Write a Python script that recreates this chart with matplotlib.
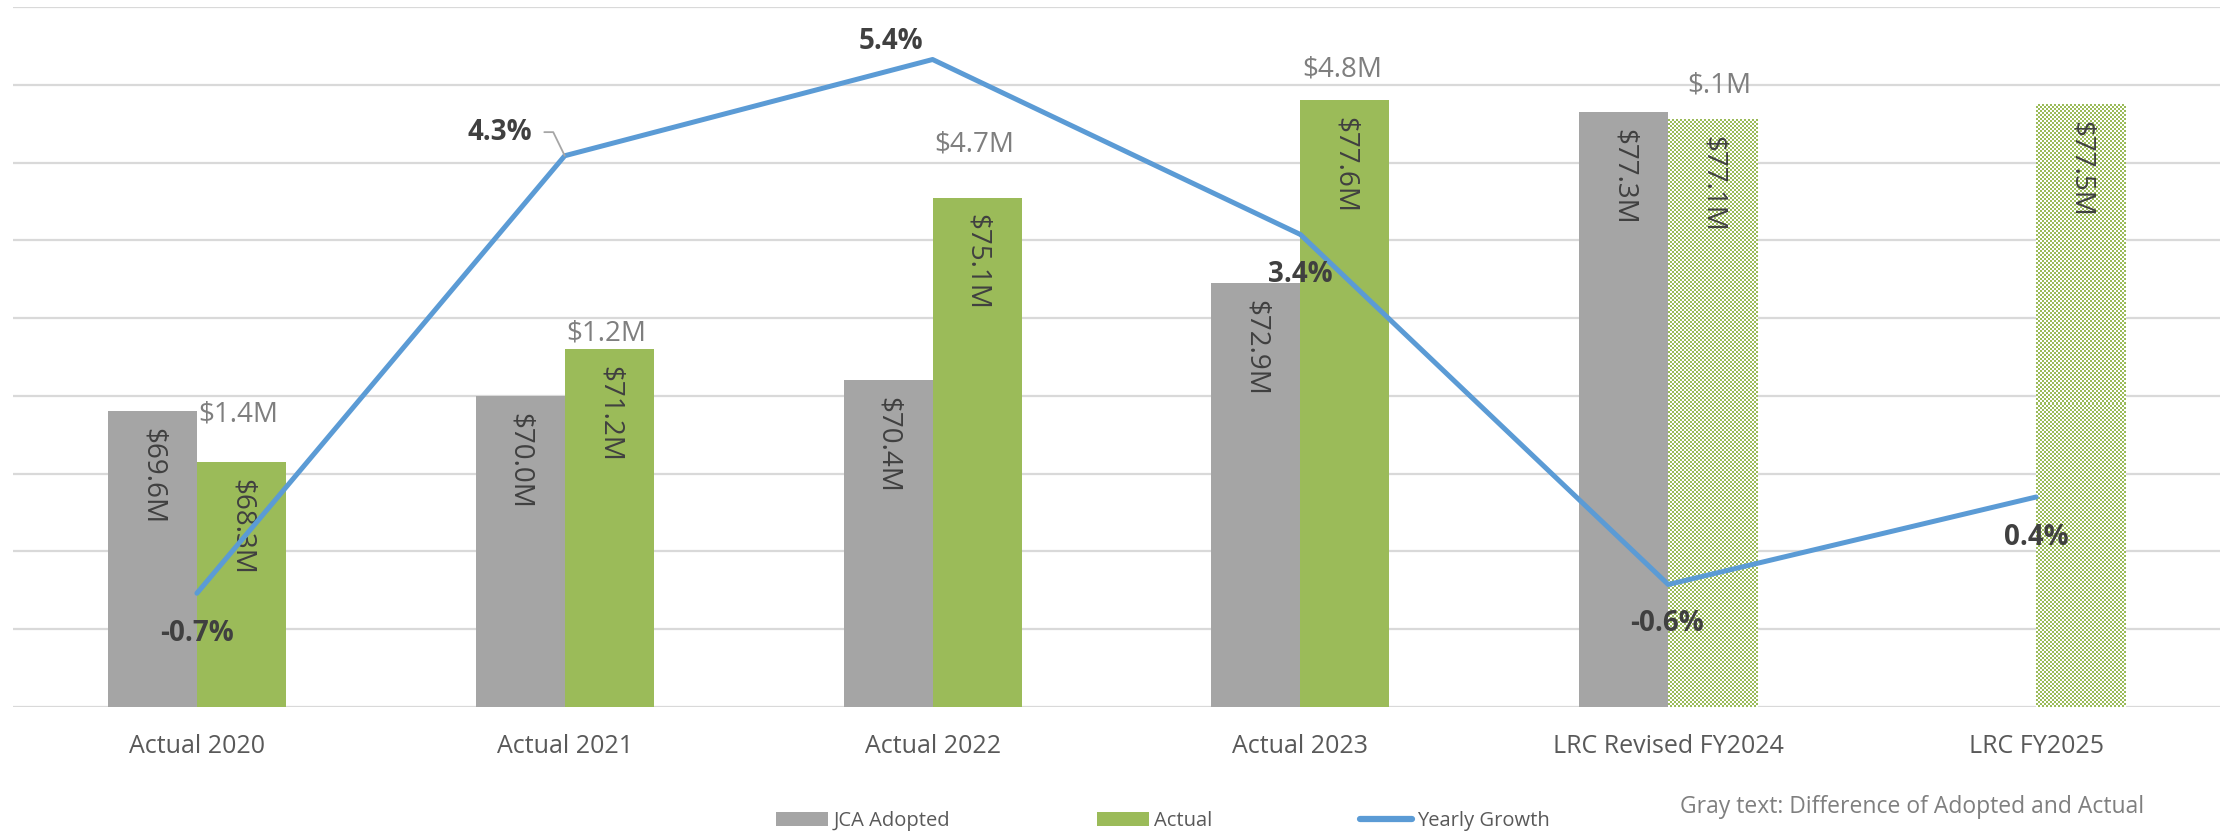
import numpy as np
import matplotlib

matplotlib.use("Agg")
import matplotlib.pyplot as plt
from matplotlib.colors import ListedColormap
from matplotlib.lines import Line2D
from matplotlib.patches import Patch

plt.rcParams["font.family"] = ["Open Sans", "DejaVu Sans"]

# === Data ===

categories = ["Actual 2020", "Actual 2021", "Actual 2022", "Actual 2023",
              "LRC Revised FY2024", "LRC FY2025"]
adopted = [69.6, 70.0, 70.4, 72.9, 77.3, np.nan]      # JCA Adopted, $M
actual = [68.3, 71.2, 75.1, 77.6, 77.1, 77.5]         # Actual / projected, $M
growth = [-0.7, 4.3, 5.4, 3.4, -0.6, 0.4]             # yearly growth, %
diff_labels = ["$1.4M", "$1.2M", "$4.7M", "$4.8M", "$.1M"]
projected = [False, False, False, False, True, True]

# === Style ===

GRAY = "#A5A5A5"
GREEN = "#9BBB59"
BLUE = "#5B9BD5"
GRID = "#D9D9D9"
DARK = "#404040"
NOTE = "#7F7F7F"
BAR_W = 0.242
CELL = 2  # checker cell size in pixels

# label offsets in points
growth_offsets = [(0, -29), (-47, 17), (-30, 13), (0, -29), (-1, -28), (0, -29)]
diff_offsets = [(-2, 34), (-2, 11), (-2, 38), (-2, 22), (5, 25)]

fig = plt.figure(figsize=(22.36, 8.33), dpi=100)
ax = fig.add_axes([13 / 2236, 126 / 833, 2207 / 2236, 700 / 833])
x = np.arange(len(categories))

ax.set_xlim(-0.5, len(categories) - 0.5)
ax.set_ylim(62, 80)
ax.set_yticks(np.arange(62, 81, 2))
ax.yaxis.grid(True, color=GRID, linewidth=1.6, zorder=0)
ax.set_axisbelow(True)
for s in ax.spines.values():
    s.set_visible(False)
ax.set_xticks(x)
ax.set_xticklabels(categories)

# solid bars
adopted_x = x - BAR_W / 2
actual_x = x + BAR_W / 2
ax.bar(adopted_x, adopted, BAR_W, color=GRAY, zorder=2)
solid_actual = [v if not p else np.nan for v, p in zip(actual, projected)]
ax.bar(actual_x, solid_actual, BAR_W, color=GREEN, zorder=2)

# projected bars: green/white checker fill
checker_cmap = ListedColormap(["white", GREEN])
ybot = ax.get_ylim()[0]
for xi, v, p in zip(actual_x, actual, projected):
    if not p:
        continue
    x0, x1 = xi - BAR_W / 2, xi + BAR_W / 2
    px0, py0 = ax.transData.transform((x0, ybot))
    px1, py1 = ax.transData.transform((x1, v))
    nx = max(1, int(round((px1 - px0) / CELL)))
    ny = max(1, int(round((py1 - py0) / CELL)))
    grid = np.add.outer(np.arange(ny), np.arange(nx)) % 2
    ax.imshow(grid, cmap=checker_cmap, extent=(x0, x1, ybot, v), aspect="auto",
              interpolation="nearest", origin="lower", zorder=2)
ax.set_xlim(-0.5, len(categories) - 0.5)
ax.set_ylim(62, 80)

# value labels inside bars, reading top to bottom
for xs, vals in ((adopted_x, adopted), (actual_x, actual)):
    for xi, v in zip(xs, vals):
        if np.isnan(v):
            continue
        ax.annotate(f"${v:.1f}M", (xi, v), xytext=(0, -12), textcoords="offset points",
                    rotation=270, ha="center", va="top", fontsize=20, color=DARK,
                    zorder=3)

# difference between adopted and actual, above the green bar
for xi, v, lab, off in zip(actual_x, actual, diff_labels, diff_offsets):
    ax.annotate(lab, (xi, v), xytext=off, textcoords="offset points",
                ha="center", va="center", fontsize=20, color=NOTE, zorder=3)

# growth line on a hidden secondary axis
ax2 = ax.twinx()
ax2.set_ylim(-2, 6)
ax2.axis("off")
ax2.plot(x, growth, color=BLUE, linewidth=3.6, solid_joinstyle="round",
         solid_capstyle="round", zorder=4)
for xi, g, off in zip(x, growth, growth_offsets):
    kw = {}
    if off[0] < -40:
        kw["arrowprops"] = dict(arrowstyle="-", color="#A6A6A6", lw=1.3,
                                relpos=(1, 0.5), shrinkA=7, shrinkB=0,
                                connectionstyle="angle,angleA=0,angleB=116,rad=0")
    ax2.annotate(f"{g:.1f}%", (xi, g), xytext=off, textcoords="offset points",
                 ha="center", va="center", fontsize=20, fontweight="bold",
                 color=DARK, zorder=5, **kw)

# twinx turns the left ticks back on
ax.tick_params(axis="y", left=False, right=False, labelleft=False, labelright=False)
ax.tick_params(axis="x", bottom=False, pad=16, labelsize=18, labelcolor="#595959")

# legend and note
handles = [
    Patch(facecolor=GRAY, label="JCA Adopted"),
    Patch(facecolor=GREEN, label="Actual"),
    Line2D([0], [0], color=BLUE, linewidth=4.5, solid_capstyle="round",
           label="Yearly Growth"),
]
fig.legend(handles=handles, loc="center left", bbox_to_anchor=(766 / 2236, 1 - 821 / 833),
           ncol=3, frameon=False, fontsize=14.5, handlelength=2.6, handleheight=0.65,
           handletextpad=0.25, columnspacing=7.3, borderpad=0, labelcolor="#595959")
fig.text(1680 / 2236, 1 - 807 / 833, "Gray text: Difference of Adopted and Actual",
         ha="left", va="center", fontsize=16.5, color=NOTE)

fig.savefig("out.png", dpi=100)
